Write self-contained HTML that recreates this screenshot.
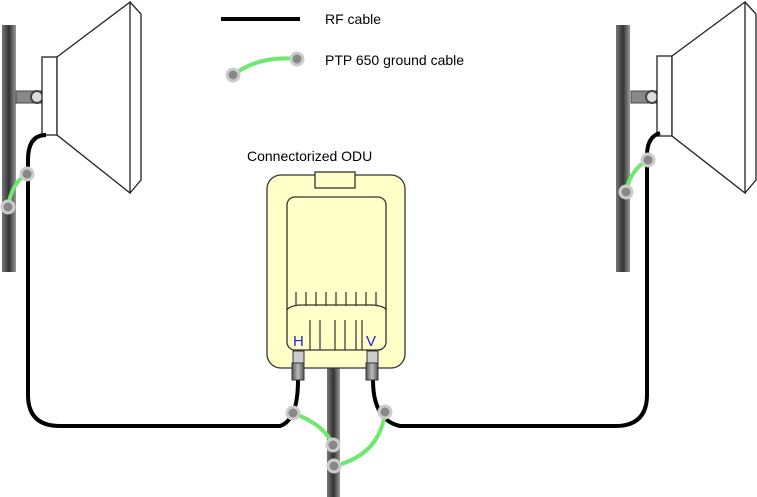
<!DOCTYPE html>
<html><head><style>body{margin:0;background:#fff}svg{display:block}text{font-family:"Liberation Sans",sans-serif}</style></head><body>
<svg width="757" height="497" viewBox="0 0 757 497" xmlns="http://www.w3.org/2000/svg">
<defs>
<linearGradient id="pg" x1="0" x2="1"><stop offset="0" stop-color="#777"/><stop offset="0.5" stop-color="#333"/><stop offset="1" stop-color="#999"/></linearGradient>
<linearGradient id="cg" x1="0" x2="1"><stop offset="0" stop-color="#555"/><stop offset="0.5" stop-color="#bbb"/><stop offset="1" stop-color="#555"/></linearGradient>
</defs>
<line x1="221" y1="19" x2="300" y2="19" stroke="#000" stroke-width="4"/>
<text x="325" y="24" font-size="14">RF cable</text>
<path d="M233 75 Q260 55 297 59" fill="none" stroke="#6ee86e" stroke-width="4"/>
<circle cx="233" cy="75" r="6" fill="#888" stroke="#ccc" stroke-width="3"/>
<circle cx="297" cy="59" r="6" fill="#888" stroke="#ccc" stroke-width="3"/>
<text x="325" y="65" font-size="14">PTP 650 ground cable</text>
<text x="247" y="161" font-size="14">Connectorized ODU</text>
<rect x="2" y="25" width="14" height="247" fill="url(#pg)"/>
<rect x="616" y="25" width="14" height="247" fill="url(#pg)"/>
<rect x="327" y="368" width="13" height="129" fill="url(#pg)"/>
<rect x="16" y="91" width="26" height="12" fill="#888" stroke="#444"/>
<circle cx="37" cy="97" r="6" fill="#ddd" stroke="#444" stroke-width="2"/>
<rect x="42" y="57" width="15" height="78" fill="#fff" stroke="#222" stroke-width="1.3"/>
<path d="M57 57 L130 2 L130 193 L57 135 Z" fill="#fff" stroke="#222" stroke-width="1.3"/>
<path d="M130 2 L141 14 L141 180 L130 193" fill="none" stroke="#222" stroke-width="1.3"/>
<rect x="631" y="91" width="28" height="12" fill="#888" stroke="#444"/>
<circle cx="652" cy="97" r="6" fill="#ddd" stroke="#444" stroke-width="2"/>
<rect x="657" y="56" width="15" height="80" fill="#fff" stroke="#222" stroke-width="1.3"/>
<path d="M672 56 L745 2 L745 193 L672 136 Z" fill="#fff" stroke="#222" stroke-width="1.3"/>
<path d="M745 2 L756 14 L756 180 L745 193" fill="none" stroke="#222" stroke-width="1.3"/>
<path d="M298 380 Q298 420 280 426 L60 426 Q28 426 28 395 L28 160 Q28 135 46 135" fill="none" stroke="#000" stroke-width="4"/>
<path d="M373 380 Q373 420 400 426 L615 426 Q647 426 647 395 L647 155 Q647 137 660 133" fill="none" stroke="#000" stroke-width="4"/>
<rect x="267" y="175" width="138" height="193" rx="14" fill="#ffffc8" stroke="#333" stroke-width="1.3"/>
<rect x="315" y="172" width="40" height="16" fill="#ffffc8" stroke="#333" stroke-width="1.3"/>
<rect x="287" y="197" width="99" height="153" rx="8" fill="#ffffc8" stroke="#333" stroke-width="1.3"/>
<path d="M287 310 Q289 306 300 305 L372 305 Q385 306 386 310" fill="none" stroke="#333" stroke-width="1.3"/>
<g stroke="#333" stroke-width="1.2">
<line x1="296" y1="292" x2="296" y2="306"/><line x1="306" y1="292" x2="306" y2="306"/><line x1="316" y1="292" x2="316" y2="306"/><line x1="326" y1="292" x2="326" y2="306"/><line x1="336" y1="292" x2="336" y2="306"/><line x1="346" y1="292" x2="346" y2="306"/><line x1="356" y1="292" x2="356" y2="306"/><line x1="366" y1="292" x2="366" y2="306"/><line x1="376" y1="292" x2="376" y2="306"/>
<line x1="310" y1="320" x2="310" y2="350"/><line x1="320" y1="320" x2="320" y2="350"/><line x1="335" y1="320" x2="335" y2="350"/><line x1="345" y1="320" x2="345" y2="350"/><line x1="356" y1="320" x2="356" y2="350"/><line x1="362" y1="320" x2="362" y2="350"/>
</g>
<text x="293" y="346" font-size="15" fill="#2222dd">H</text>
<text x="366" y="346" font-size="15" fill="#2222dd">V</text>
<rect x="293" y="351" width="11" height="12" fill="#ccc" stroke="#333"/>
<rect x="292" y="363" width="12" height="17" fill="url(#cg)" stroke="#333"/>
<rect x="367" y="351" width="11" height="12" fill="#ccc" stroke="#333"/>
<rect x="366" y="363" width="12" height="17" fill="url(#cg)" stroke="#333"/>
<g fill="none" stroke="#6ee86e" stroke-width="4">
<path d="M27 174 Q12 182 8 207"/>
<path d="M648 160 Q630 170 626 192"/>
<path d="M293 413 Q325 425 333 445"/>
<path d="M385 412 Q380 455 334 466"/>
</g>
<g fill="#888" stroke="#ccc" stroke-width="3">
<circle cx="27" cy="174" r="6"/><circle cx="8" cy="207" r="6"/>
<circle cx="648" cy="160" r="6"/><circle cx="626" cy="192" r="6"/>
<circle cx="293" cy="413" r="6"/><circle cx="333" cy="445" r="6"/>
<circle cx="385" cy="412" r="6"/><circle cx="334" cy="466" r="6"/>
</g>
</svg>
</body></html>
